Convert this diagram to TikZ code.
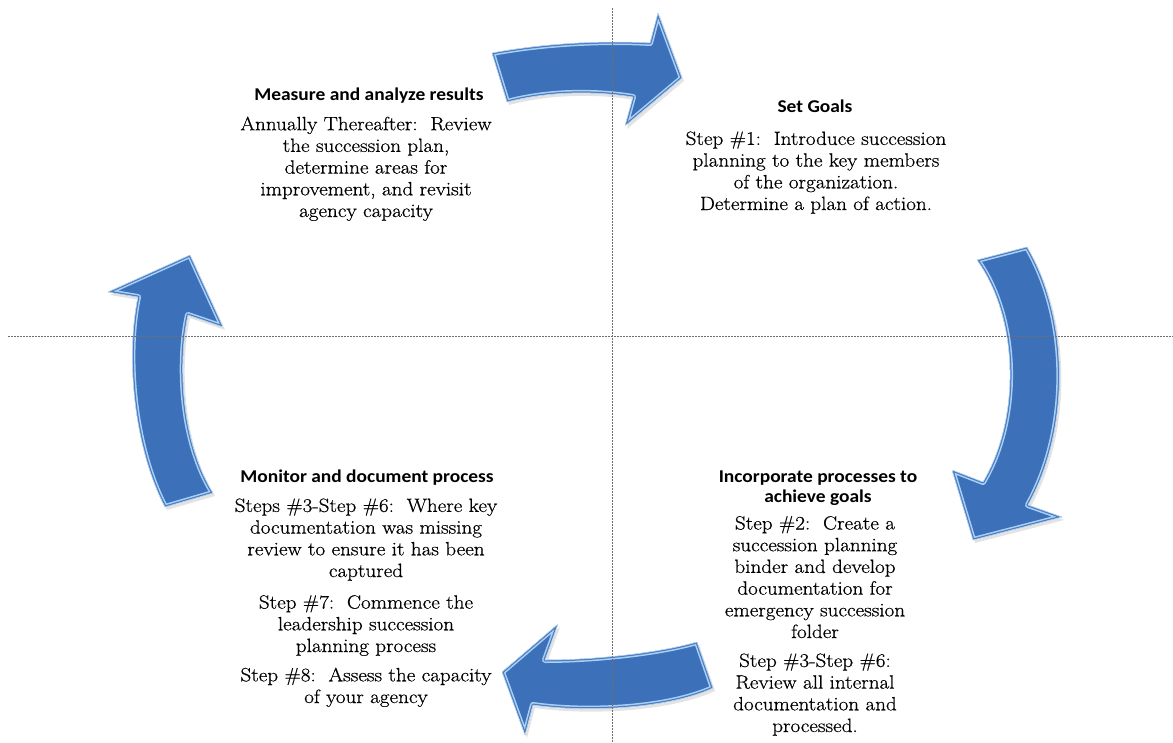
\documentclass[tikz,border=0pt]{standalone}
\usepackage{fontspec}
\setmainfont{Latin Modern Roman}[FakeStretch=1.1, FakeBold=0.6]
\newfontfamily\titlefont{Carlito}[FakeStretch=1.08]
\usetikzlibrary{shadows}
\definecolor{arrowblue}{RGB}{60,112,184}
\definecolor{arrowlight}{RGB}{170,208,245}
\definecolor{axisgray}{RGB}{110,110,110}
\newcommand\pathTop{(492,53) .. controls (540,44) and (600,40) .. (650,43) -- (658,13) -- (682,78) -- (625,126) -- (633,97) .. controls (590,90) and (545,92) .. (507,102) -- cycle}
\newcommand\pathRight{(1027,247) .. controls (1070,320) and (1070,430) .. (1028,505) -- (1062,517) -- (973,540) -- (952,470) -- (983,482) .. controls (1020,420) and (1020,320) .. (977,260) -- cycle}
\newcommand\pathBottom{(697,642) .. controls (655,654) and (590,660) .. (545,660) -- (558,624) -- (502,672) -- (525,735) -- (533,705) .. controls (590,713) and (670,708) .. (713,688) -- cycle}
\newcommand\pathLeft{(165,507) .. controls (135,450) and (125,360) .. (138,297) -- (108,292) -- (190,255) -- (223,327) -- (188,315) .. controls (178,360) and (180,440) .. (213,493) -- cycle}
\newcommand\bevelarrow[1]{%
  \fill[arrowblue, drop shadow={opacity=0.22, shadow xshift=2pt, shadow yshift=-3pt}] #1;
  \begin{scope}
    \clip #1;
    \draw[arrowlight, line width=6pt, line join=round] #1;
    \draw[arrowblue!85!arrowlight, line width=3pt, line join=round] #1;
  \end{scope}
  \draw[arrowlight!60!white, line width=0.5pt, line join=round] #1;
}
\begin{document}
\begin{tikzpicture}[x=1pt, y=-1pt,
  titletext/.style={font=\titlefont\bfseries\fontsize{18}{20}\selectfont, align=center, anchor=base, inner sep=0pt},
  bodytext/.style={font=\fontsize{19.2}{21.7}\selectfont, align=center, anchor=base, inner sep=0pt},
  axisline/.style={axisgray, line width=0.8pt, dash pattern=on 1.6pt off 1.4pt}]
\useasboundingbox (0,0) rectangle (1173,742);
\fill[white] (0,0) rectangle (1173,742);

% arrows
\bevelarrow{\pathTop}
\bevelarrow{\pathRight}
\bevelarrow{\pathBottom}
\bevelarrow{\pathLeft}

% axes
\coordinate (vtop) at (612,8);
\coordinate (vbot) at (612,742);
\coordinate (hl) at (8,336);
\coordinate (hr) at (1173,336);
\draw[axisline] (vtop) -- (vbot);
\draw[axisline] (hl) -- (hr);

% top-left (base anchors = baseline of last line)
\node[titletext] (t1) at (369,100) {Measure and analyze results};
\node[bodytext] (b1) at (366,217) {Annually Thereafter:\ \ Review\\the succession plan,\\determine areas for\\improvement, and revisit\\agency capacity};

% top-right
\node[titletext] (t2) at (815,112) {Set Goals};
\node[bodytext] (b2) at (816,210) {Step \#1:\ \ Introduce succession\\planning to the key members\\of the organization.\\Determine a plan of action.};

% bottom-right
\node[titletext] (t3) at (818,502) {Incorporate processes to\\achieve goals};
\node[bodytext] (b3) at (815,638) {Step \#2:\ \ Create a\\succession planning\\binder and develop\\documentation for\\emergency succession\\folder};
\node[bodytext] (b3b) at (815,732) {Step \#3-Step \#6:\\Review all internal\\documentation and\\processed.};

% bottom-left
\node[titletext] (t4) at (367,482) {Monitor and document process};
\node[bodytext] (b4) at (366,577) {Steps \#3-Step \#6:\ \ Where key\\documentation was missing\\review to ensure it has been\\captured};
\node[bodytext] (b4b) at (366,652) {Step \#7:\ \ Commence the\\leadership succession\\planning process};
\node[bodytext] (b4c) at (366,703) {Step \#8:\ \ Assess the capacity\\of your agency};
\end{tikzpicture}
\end{document}
